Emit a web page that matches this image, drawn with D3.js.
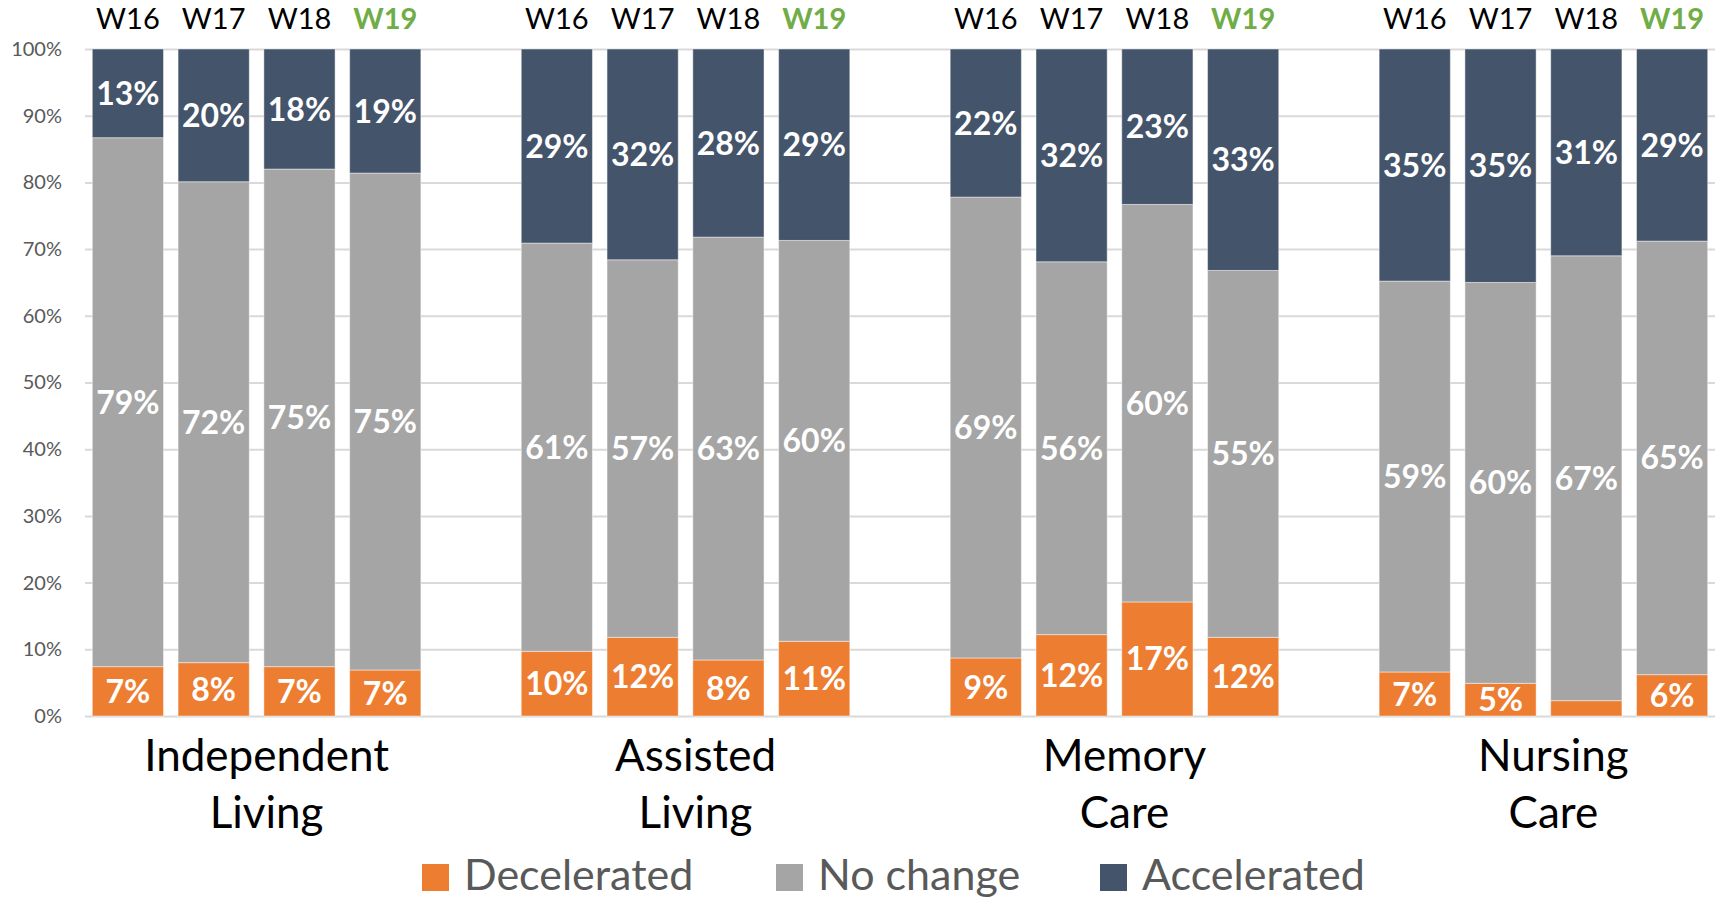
<!DOCTYPE html>
<html>
<head>
<meta charset="utf-8">
<script src="https://cdn.jsdelivr.net/npm/d3@7"></script>
<style>
  body { margin: 0; background: #fff; }
  svg text { font-family: Lato, "Open Sans", sans-serif; }
</style>
</head>
<body>
<svg width="1719" height="900"></svg>
<script>
// categories, weeks and series
let categories = [["Independent", "Living"], ["Assisted", "Living"], ["Memory", "Care"], ["Nursing", "Care"]];
let weeks = ["W16", "W17", "W18", "W19"];
let seriesNames = ["Decelerated", "No change", "Accelerated"];
let yTicks = [0, 10, 20, 30, 40, 50, 60, 70, 80, 90, 100];

// percent of communities, one row per category, one value per week
let decelerated = [
  [7.4, 8.0, 7.4, 6.9],
  [9.7, 11.8, 8.4, 11.2],
  [8.7, 12.2, 17.1, 11.8],
  [6.6, 4.9, 2.3, 6.2]
];
let noChange = [
  [79.3, 72.1, 74.6, 74.5],
  [61.2, 56.6, 63.4, 60.1],
  [69.1, 55.9, 59.6, 55.0],
  [58.6, 60.1, 66.7, 65.0]
];
let accelerated = [
  [13.3, 19.9, 18.0, 18.6],
  [29.1, 31.6, 28.2, 28.7],
  [22.2, 31.9, 23.3, 33.2],
  [34.8, 35.0, 31.0, 28.8]
];

let colors = { "Decelerated": "#ED7D31", "No change": "#A5A5A5", "Accelerated": "#44546A" };

let svg = d3.select("svg");

// one slot per bar plus an empty slot between categories
let perGroup = weeks.length + 1;
let nSlots = categories.length * perGroup - 1;

let rows = [];
categories.forEach(function (c, gi) {
  weeks.forEach(function (w, wi) {
    rows.push({
      slot: gi * perGroup + wi,
      group: gi,
      week: w,
      "Decelerated": decelerated[gi][wi],
      "No change": noChange[gi][wi],
      "Accelerated": accelerated[gi][wi]
    });
  });
});

let x = d3.scaleBand().domain(d3.range(nSlots)).range([85, 1715]).paddingInner(0.17).paddingOuter(0.085);
let y = d3.scaleLinear().domain([0, 100]).range([716, 49]);

// gridlines and y labels
let yAxis = svg.append("g")
  .attr("transform", "translate(85,0)")
  .call(d3.axisLeft(y).tickValues(yTicks).tickSize(-1630).tickPadding(23).tickFormat(function (d) { return d + "%"; }));
yAxis.select(".domain").remove();
yAxis.selectAll("line").attr("stroke", "#D9D9D9").attr("stroke-width", 2);
yAxis.selectAll("text").attr("fill", "#595959").style("font-size", "20px");

// stacked bars
let stack = d3.stack().keys(seriesNames);
let layers = stack(rows);

let layer = svg.selectAll("g.layer")
  .data(layers)
  .enter()
  .append("g")
  .classed("layer", true)
  .attr("fill", function (d) { return colors[d.key]; });

layer.selectAll("rect")
  .data(function (d) { return d; })
  .enter()
  .append("rect")
  .attr("x", function (d) { return x(d.data.slot); })
  .attr("width", x.bandwidth())
  .attr("y", function (d) { return y(d[1]); })
  .attr("height", function (d) { return y(d[0]) - y(d[1]); })
  .attr("stroke", "#ffffff")
  .attr("stroke-opacity", 0.45)
  .attr("stroke-width", 1);

// value labels
layer.selectAll("text")
  .data(function (d) { return d.filter(function (p) { return p[1] - p[0] >= 3; }); })
  .enter()
  .append("text")
  .attr("x", function (d) { return x(d.data.slot) + x.bandwidth() / 2; })
  .attr("y", function (d) { return (y(d[0]) + y(d[1])) / 2; })
  .attr("dy", "0.36em")
  .attr("text-anchor", "middle")
  .attr("fill", "#ffffff")
  .style("font-size", "32px")
  .style("font-weight", "bold")
  .text(function (d) { return Math.round(d[1] - d[0]) + "%"; });

// week labels above bars
svg.selectAll("text.week")
  .data(rows)
  .enter()
  .append("text")
  .classed("week", true)
  .attr("x", function (d) { return x(d.slot) + x.bandwidth() / 2; })
  .attr("y", 29)
  .attr("text-anchor", "middle")
  .attr("fill", function (d) { return d.week === "W19" ? "#70AD47" : "#000000"; })
  .style("font-size", "29px")
  .style("font-weight", function (d) { return d.week === "W19" ? "bold" : "normal"; })
  .text(function (d) { return d.week; });

// category labels
let cat = svg.selectAll("text.cat")
  .data(categories)
  .enter()
  .append("text")
  .classed("cat", true)
  .attr("x", function (d, i) {
    let first = x(i * perGroup);
    let last = x(i * perGroup + weeks.length - 1) + x.bandwidth();
    return (first + last) / 2 + 10;
  })
  .attr("y", 771)
  .attr("text-anchor", "middle")
  .attr("fill", "#000000")
  .style("font-size", "44px");

cat.selectAll("tspan")
  .data(function (d) { return d; })
  .enter()
  .append("tspan")
  .attr("x", function () { return d3.select(this.parentNode).attr("x"); })
  .attr("dy", function (d, i) { return i === 0 ? 0 : 57; })
  .text(function (d) { return d; });

// legend
let legendX = [422, 776, 1100];
let legend = svg.selectAll("g.legend")
  .data(seriesNames)
  .enter()
  .append("g")
  .classed("legend", true)
  .attr("transform", function (d, i) { return "translate(" + legendX[i] + ",864)"; });

legend.append("rect")
  .attr("width", 27)
  .attr("height", 27)
  .attr("fill", function (d) { return colors[d]; });

legend.append("text")
  .attr("x", 42)
  .attr("y", 26)
  .attr("fill", "#595959")
  .style("font-size", "43px")
  .text(function (d) { return d; });
</script>
</body>
</html>
